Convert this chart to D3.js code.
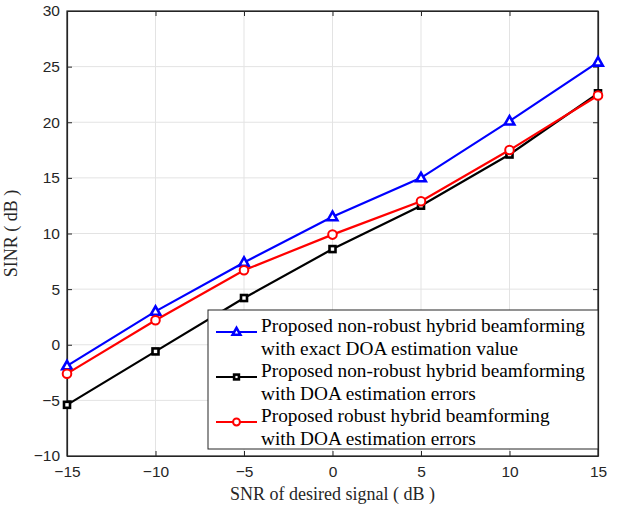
<!DOCTYPE html>
<html>
<head>
<meta charset="utf-8">
<script src="https://cdn.jsdelivr.net/npm/d3@7"></script>
<style>
  body { margin: 0; background: #fff; }
  .tick text { font-family: "Liberation Sans", Arial, sans-serif; font-size: 15.5px; fill: #262626; }
</style>
</head>
<body>
<div id="chart"></div>
<script>
const snr = [-15, -10, -5, 0, 5, 10, 15];
const exactDoa = [-1.9, 3.0, 7.4, 11.5, 15.0, 20.1, 25.4];
const nonRobustErr = [-5.4, -0.6, 4.2, 8.6, 12.5, 17.1, 22.6];
const robustErr = [-2.6, 2.2, 6.7, 9.9, 12.9, 17.5, 22.4];
const xTicks = [-15, -10, -5, 0, 5, 10, 15];
const yTicks = [-10, -5, 0, 5, 10, 15, 20, 25, 30];

const series = [
  { name: ["Proposed non-robust hybrid beamforming", "with exact DOA estimation value"], values: exactDoa, color: "#0000ff", marker: "triangle" },
  { name: ["Proposed non-robust hybrid beamforming", "with DOA estimation errors"], values: nonRobustErr, color: "#000000", marker: "square" },
  { name: ["Proposed robust hybrid beamforming", "with DOA estimation errors"], values: robustErr, color: "#ff0000", marker: "circle" }
];

const margin = { top: 11, right: 28, bottom: 52, left: 67 };
const W = 626, H = 508;
const width = W - margin.left - margin.right;
const height = H - margin.top - margin.bottom;
const serif = "'Liberation Serif', 'Times New Roman', serif";

const svg = d3.select("#chart").append("svg")
  .attr("width", W).attr("height", H)
  .append("g")
  .attr("transform", "translate(" + margin.left + "," + margin.top + ")");

const x = d3.scaleLinear().domain([-15, 15]).range([0, width]);
const y = d3.scaleLinear().domain([-10, 30]).range([height, 0]);

// gridlines
svg.append("g").selectAll("line").data(xTicks).enter().append("line")
  .attr("x1", d => x(d)).attr("x2", d => x(d)).attr("y1", 0).attr("y2", height)
  .attr("stroke", "#e3e3e3").attr("stroke-width", 1);
svg.append("g").selectAll("line").data(yTicks).enter().append("line")
  .attr("x1", 0).attr("x2", width).attr("y1", d => y(d)).attr("y2", d => y(d))
  .attr("stroke", "#e3e3e3").attr("stroke-width", 1);

// axes, ticks inward
svg.append("g").attr("transform", "translate(0," + height + ")")
  .call(d3.axisBottom(x).tickValues(xTicks).tickSizeInner(-5).tickSizeOuter(0).tickPadding(10));
svg.append("g")
  .call(d3.axisLeft(y).tickValues(yTicks).tickSizeInner(-5).tickSizeOuter(0).tickPadding(7));
svg.append("g")
  .call(d3.axisTop(x).tickValues(xTicks).tickSizeInner(-5).tickSizeOuter(0).tickFormat(""));
svg.append("g").attr("transform", "translate(" + width + ",0)")
  .call(d3.axisRight(y).tickValues(yTicks).tickSizeInner(-5).tickSizeOuter(0).tickFormat(""));
svg.selectAll(".domain, .tick line").attr("stroke", "#262626");
svg.selectAll(".domain").attr("stroke-width", 1.2);

svg.append("rect").attr("x", 0).attr("y", 0).attr("width", width).attr("height", height)
  .attr("fill", "none").attr("stroke", "#262626").attr("stroke-width", 1.2);

// lines
const line = d3.line().x((d, i) => x(snr[i])).y(d => y(d));

function drawMarker(g, type, color, cx, cy, scale) {
  const k = scale || 1;
  if (type === "triangle") {
    const hw = 4.8 * k, h = 8.5 * k;
    g.append("path")
      .attr("d", "M" + cx + "," + (cy - h * 0.6) + "L" + (cx + hw) + "," + (cy + h * 0.4) +
        "L" + (cx - hw) + "," + (cy + h * 0.4) + "Z")
      .attr("fill", "#fff").attr("stroke", color).attr("stroke-width", 2.6)
      .attr("stroke-linejoin", "miter");
  } else if (type === "square") {
    const s = 6 * k;
    g.append("rect").attr("x", cx - s / 2).attr("y", cy - s / 2).attr("width", s).attr("height", s)
      .attr("fill", "#fff").attr("stroke", color).attr("stroke-width", 2.6);
  } else {
    g.append("circle").attr("cx", cx).attr("cy", cy).attr("r", 4.3 * k)
      .attr("fill", "#fff").attr("stroke", color).attr("stroke-width", 2);
  }
}

series.forEach(s => {
  svg.append("path").datum(s.values)
    .attr("d", line).attr("fill", "none")
    .attr("stroke", s.color).attr("stroke-width", 2.2);
  const g = svg.append("g");
  s.values.forEach((v, i) => drawMarker(g, s.marker, s.color, x(snr[i]), y(v)));
});

// axis labels
svg.append("text")
  .attr("x", width / 2).attr("y", height + 44)
  .attr("text-anchor", "middle")
  .style("font-family", serif)
  .style("font-size", "18px").attr("fill", "#262626")
  .text("SNR of desired signal ( dB )");
svg.append("text")
  .attr("transform", "rotate(-90)")
  .attr("x", -height / 2).attr("y", -50)
  .attr("text-anchor", "middle")
  .style("font-family", serif)
  .style("font-size", "18px").attr("fill", "#262626")
  .text("SINR ( dB )");

// legend
const lx = 141, ly = 299, lw = width - 141, lh = 139;
const legend = svg.append("g").attr("transform", "translate(" + lx + "," + ly + ")");
legend.append("rect").attr("width", lw).attr("height", lh)
  .attr("fill", "#fff").attr("stroke", "#262626").attr("stroke-width", 1);
series.forEach((s, i) => {
  const rowY = 22 + i * 45;
  legend.append("line").attr("x1", 8).attr("x2", 49).attr("y1", rowY).attr("y2", rowY)
    .attr("stroke", s.color).attr("stroke-width", 2.2);
  drawMarker(legend, s.marker, s.color, 28.5, rowY, 0.8);
  s.name.forEach((t, j) => {
    legend.append("text")
      .attr("x", 53).attr("y", 22 + i * 45 + j * 22.5)
      .style("font-family", serif)
      .style("font-size", "19.3px").attr("fill", "#000")
      .text(t);
  });
});
</script>
</body>
</html>
